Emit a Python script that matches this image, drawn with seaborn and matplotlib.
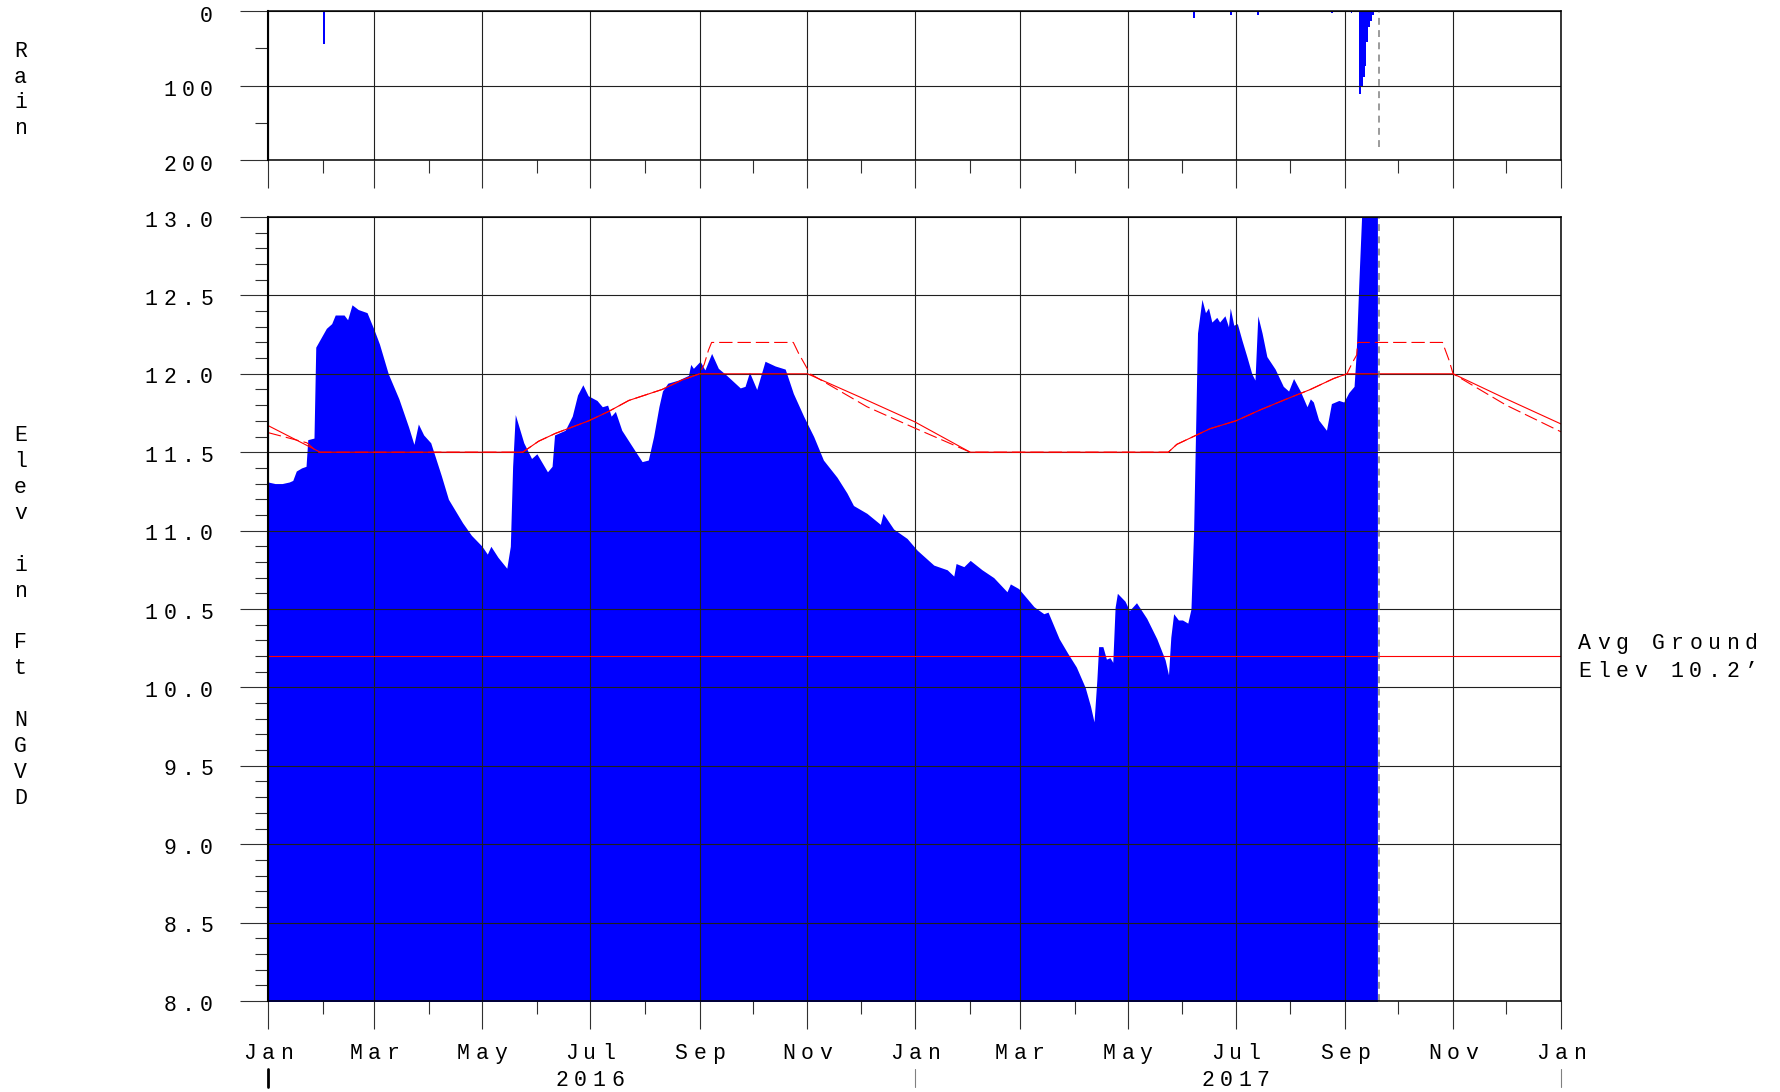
import pandas as pd
import matplotlib
matplotlib.use("Agg")
import matplotlib.pyplot as plt
import matplotlib.dates as mdates
import matplotlib.ticker as mticker
import matplotlib.transforms as mtransforms
from matplotlib.lines import Line2D
import seaborn as sns

sns.set_style("white")
plt.rcParams['font.family'] = ['Liberation Mono', 'DejaVu Sans Mono']

start = pd.Timestamp("2016-01-01")
end = pd.Timestamp("2018-01-01")
today = pd.Timestamp("2017-09-20")
avg_ground = 10.2

# stage (ft NGVD), days counted from Jan 1 2016
stage_day = [0, 4, 8, 12, 14, 16, 19, 21.5, 22.5, 26,
             27, 30, 33, 36, 38, 43, 45, 47.5, 51, 56,
             60, 63, 68, 74, 79.5, 82.5, 85, 88, 92, 98,
             102, 110, 115, 121, 124, 126, 130, 135, 137, 138.3,
             139.8, 144.6, 149, 152, 158, 160.6, 162, 168, 172, 175,
             178, 181, 186, 189, 192, 194, 196.4, 200, 204, 208,
             211.5, 215, 218, 221, 223, 226, 229, 232, 237.7, 239,
             240.5, 244.3, 247, 250.8, 254.6, 259.3, 267, 269.7, 272.2, 276.3,
             281, 286.7, 292.4, 297, 302.8, 308.5, 314, 321.7, 327.3, 331,
             338.6, 346.2, 347.7, 353.7, 361.3, 367, 376.4, 384, 387.7, 389,
             393.4, 397, 403.7, 410.3, 417.8, 419.7, 424.4, 433, 438.6, 441,
             447.3, 452, 457, 462, 465, 467, 468.6, 469.6, 472, 474,
             476, 477.6, 478.9, 480.2, 484.5, 487, 491, 496.8, 502.5, 507.2,
             509.1, 510.4, 512, 514.7, 517, 520, 521.8, 523.3, 525.5, 528,
             530, 531.7, 533.6, 536.4, 538, 541, 543, 544, 546, 548,
             550.6, 553.4, 556.2, 558, 559.6, 562, 564.7, 569.4, 574, 577,
             579.8, 583.6, 587.4, 589.3, 591, 594, 598.4, 601.2, 605.4, 608.2,
             611, 614, 615.2, 616.7, 619, 626, 627.2]
stage_ft = [11.31, 11.30, 11.30, 11.31, 11.32, 11.38, 11.40, 11.41, 11.58, 11.59,
            12.17, 12.23, 12.29, 12.32, 12.375, 12.375, 12.345, 12.44, 12.41, 12.39,
            12.28, 12.19, 12.00, 11.84, 11.66, 11.55, 11.68, 11.61, 11.56, 11.35,
            11.20, 11.05, 10.97, 10.90, 10.85, 10.90, 10.83, 10.76, 10.90, 11.41,
            11.74, 11.56, 11.46, 11.49, 11.375, 11.41, 11.61, 11.64, 11.73, 11.865,
            11.93, 11.86, 11.83, 11.79, 11.80, 11.73, 11.76, 11.64, 11.57, 11.50,
            11.44, 11.45, 11.60, 11.79, 11.89, 11.94, 11.95, 11.96, 11.99, 12.06,
            12.035, 12.08, 12.025, 12.13, 12.035, 11.99, 11.91, 11.92, 12.01, 11.90,
            12.08, 12.05, 12.03, 11.875, 11.73, 11.60, 11.45, 11.34, 11.24, 11.16,
            11.11, 11.04, 11.11, 11.01, 10.95, 10.875, 10.78, 10.75, 10.71, 10.79,
            10.77, 10.81, 10.75, 10.70, 10.61, 10.66, 10.63, 10.515, 10.47, 10.48,
            10.31, 10.22, 10.13, 10.00, 9.88, 9.78, 10.05, 10.26, 10.26, 10.18,
            10.19, 10.16, 10.51, 10.60, 10.55, 10.49, 10.54, 10.44, 10.31, 10.175,
            10.08, 10.32, 10.47, 10.43, 10.43, 10.41, 10.50, 11.00, 12.26, 12.475,
            12.39, 12.42, 12.33, 12.36, 12.33, 12.37, 12.30, 12.42, 12.31, 12.32,
            12.215, 12.11, 12.00, 11.96, 12.37, 12.26, 12.11, 12.03, 11.92, 11.89,
            11.97, 11.89, 11.79, 11.84, 11.82, 11.705, 11.64, 11.81, 11.83, 11.82,
            11.88, 11.92, 12.13, 12.58, 13.2, 13.2, 13.1]

# regulation schedule (solid) and alternate schedule (dashed)
sched_day = [0, 29.5, 144, 153, 162.5, 181.3, 192.6, 204, 222.8, 234,
             244, 305, 335, 365.4, 397, 509, 513.8, 523.2, 532.6, 547.2,
             561, 576, 589.3, 602.5, 610, 670, 700, 731]
sched_ft = [11.67, 11.50, 11.50, 11.57, 11.62, 11.70, 11.76, 11.83, 11.90, 11.96,
            12.00, 12.00, 11.85, 11.695, 11.50, 11.50, 11.55, 11.60, 11.65, 11.70,
            11.77, 11.84, 11.90, 11.97, 12.00, 12.00, 11.84, 11.68]
alt_day = [0, 22, 28, 144, 153, 162.5, 181.3, 192.6, 204, 222.8,
           234, 244, 246.6, 249, 250.8, 297, 300, 303, 306.5, 338.6,
           365.4, 397, 509, 513.8, 523.2, 532.6, 547.2, 561, 576, 589.3,
           602.5, 610, 613, 615.5, 616, 664, 667.6, 670, 700, 731]
alt_ft = [11.625, 11.56, 11.50, 11.50, 11.57, 11.62, 11.70, 11.76, 11.83, 11.90,
          11.96, 12.00, 12.06, 12.15, 12.20, 12.20, 12.13, 12.07, 12.00, 11.79,
          11.655, 11.50, 11.50, 11.55, 11.60, 11.65, 11.70, 11.77, 11.84, 11.90,
          11.97, 12.00, 12.07, 12.12, 12.20, 12.20, 12.09, 12.00, 11.80, 11.63]

# daily rain
rain_day = [31, 271, 387, 468, 478, 509, 523, 544, 559, 577,
            601, 612, 617, 618, 619, 620, 621, 622, 623, 624]
rain_amt = [44, 1.5, 2, 1.5, 1.5, 2, 10, 6, 5, 2,
            3, 3, 112, 100, 88, 74, 42, 22, 14, 6]


def to_dates(days):
    return start + pd.to_timedelta(days, unit="D")


FS = 15.5      # font size
PITCH = 13.3   # letter spacing (points)
VPITCH = 18.7  # stacked letter spacing (points)


def spaced(ax, x, y, s, coords, ha="center", dx=0, dy=0, vertical=False):
    n = len(s)
    cw = 0.6 * FS
    for i, ch in enumerate(s):
        if ch == " ":
            continue
        if vertical:
            ox, oy = dx, dy - (i - (n - 1) / 2) * VPITCH
        else:
            if ha == "center":
                ox = dx + (i - (n - 1) / 2) * PITCH
            elif ha == "right":
                ox = dx - (n - 1 - i) * PITCH - cw / 2
            else:
                ox = dx + i * PITCH + cw / 2
            oy = dy
        ax.annotate(ch, (x, y), xycoords=coords, xytext=(ox, oy),
                    textcoords="offset points", ha="center", va="center",
                    fontsize=FS, color="black", annotation_clip=False)


W, H = 1781, 1092
fig = plt.figure(figsize=(W / 100, H / 100), dpi=100)
L, R = 268, 1561
ax_rain = fig.add_axes([L / W, 1 - 160 / H, (R - L) / W, (160 - 11) / H])
ax = fig.add_axes([L / W, 1 - 1001 / H, (R - L) / W, (1001 - 217) / H])

# rain panel
ax_rain.bar(to_dates(rain_day), rain_amt, width=1.0, align="edge", color="blue", lw=0)
ax_rain.axvline(today, ymin=0.09, ymax=1, color="grey", lw=1.1, ls=(0, (4.5, 3.5)), zorder=5)
ax_rain.set_ylim(200, 0)
ax_rain.yaxis.set_major_locator(mticker.MultipleLocator(100))
ax_rain.yaxis.set_minor_locator(mticker.MultipleLocator(50))

# stage panel
ax.fill_between(to_dates(stage_day), 7.0, stage_ft, color="blue", lw=0, zorder=1)
sns.lineplot(x=to_dates(sched_day), y=sched_ft, ax=ax, color="red", lw=0.8, zorder=3)
sns.lineplot(x=to_dates(alt_day), y=alt_ft, ax=ax, color="red", lw=0.8, zorder=3)
ax.lines[-1].set_linestyle((0, (12, 4.5)))
ax.axhline(avg_ground, color="red", lw=0.8, zorder=3)
ax.axvline(today, color="grey", lw=1.1, ls=(0, (4.5, 3.5)), zorder=5)
ax.set_ylim(8.0, 13.0)
ax.yaxis.set_major_locator(mticker.MultipleLocator(0.5))
ax.yaxis.set_minor_locator(mticker.MultipleLocator(0.1))
ax.set_xlabel("")
ax.set_ylabel("")

major_dates = pd.date_range(start, end, freq="2MS")
for a in (ax_rain, ax):
    a.set_xlim(start, end)
    a.xaxis.set_major_locator(mdates.MonthLocator(bymonth=[1, 3, 5, 7, 9, 11]))
    a.xaxis.set_minor_locator(mdates.MonthLocator(bymonth=[2, 4, 6, 8, 10, 12]))
    a.set_axisbelow(False)
    a.grid(which="major", color="#202020", lw=0.8, zorder=2)
    a.grid(which="minor", visible=False)
    a.tick_params(which="major", direction="out", length=20, width=0.8, color="#303030",
                  labelleft=False, labelbottom=False, left=True, bottom=True)
    a.tick_params(which="minor", direction="out", length=9.4, width=0.8, color="#303030",
                  left=True, bottom=True)
    for side, sp in a.spines.items():
        sp.set_color("black")
        sp.set_linewidth(1.5 if side == "left" else 1.1)
        sp.set_zorder(6)

# y tick labels
for v in [0, 100, 200]:
    spaced(ax_rain, 0, v, str(v), ax_rain.get_yaxis_transform(), ha="right", dx=-39.5, dy=-3.8)
for v in [8.0, 8.5, 9.0, 9.5, 10.0, 10.5, 11.0, 11.5, 12.0, 12.5, 13.0]:
    spaced(ax, 0, v, f"{v:.1f}", ax.get_yaxis_transform(), ha="right", dx=-39.5, dy=-3)

# x tick labels
xt = ax.get_xaxis_transform()
for d in major_dates:
    spaced(ax, mdates.date2num(d), 0, d.strftime("%b"), xt, dy=-38)
for yr in [2016, 2017]:
    spaced(ax, mdates.date2num(pd.Timestamp(f"{yr}-07-01")), 0, str(yr), xt, dy=-57.3)

sep_trans = mtransforms.blended_transform_factory(ax.transData, fig.transFigure)
for d, lw, c in [(start, 2.0, "black"), (pd.Timestamp("2017-01-01"), 0.8, "grey"), (end, 0.8, "grey")]:
    x = mdates.date2num(d)
    fig.add_artist(Line2D([x, x], [1 - 1069 / H, 1 - 1087 / H], transform=sep_trans,
                          color=c, lw=lw, clip_on=False))

# axis titles (stacked letters)
spaced(ax, 20.5 / W, 1 - 90 / H, "Rain", "figure fraction", vertical=True)
spaced(ax, 20.5 / W, 1 - 617 / H, "Elev in Ft NGVD", "figure fraction", vertical=True)

# ground elevation note
yt = ax.get_yaxis_transform()
spaced(ax, 1, avg_ground, "Avg Ground", yt, ha="left", dx=12.5, dy=9.2)
spaced(ax, 1, avg_ground, "Elev 10.2\u2019", yt, ha="left", dx=12.5, dy=-10.8)

fig.savefig("out.png", dpi=100)
